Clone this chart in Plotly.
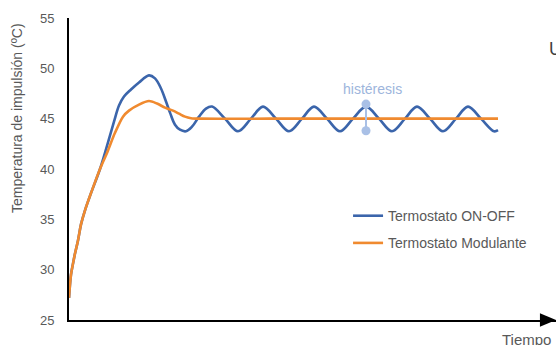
import plotly.graph_objects as go

# Time (arbitrary units) and temperature readings (ºC)
t_onoff = [0, 2, 4, 6, 9, 12, 16, 22, 31, 38, 45, 50, 55, 62, 70, 80, 86, 92, 97, 101, 106, 111, 117,
           123, 130, 137, 143, 156, 169, 182, 194, 207, 220, 233, 245, 258, 271, 284, 297,
           310, 323, 336, 348, 361, 374, 387, 399, 412, 425, 429]
v_onoff = [27.2, 29.5, 30.6, 31.6, 32.9, 34.5, 35.9, 37.6, 40.0, 42.3, 44.7, 46.3, 47.2, 47.9, 48.6, 49.3,
           49.0, 48.0, 46.7, 45.6, 44.4, 43.9, 43.75,
           44.2, 45.2, 46.0, 46.2, 45.0, 43.75, 45.0, 46.2, 45.0, 43.75, 45.0, 46.2, 45.0, 43.75,
           45.0, 46.2, 45.0, 43.75, 45.0, 46.2, 45.0, 43.75, 45.0, 46.2, 45.0, 43.75, 43.85]

t_mod = [0, 2, 4, 6, 9, 12, 16, 22, 31, 38, 46, 54, 60, 70, 80, 88, 96, 104, 110, 116, 122, 130,
         200, 300, 429]
v_mod = [27.2, 29.5, 30.6, 31.6, 32.9, 34.5, 35.9, 37.6, 40.0, 41.6, 43.6, 45.2, 45.8, 46.4, 46.75,
         46.5, 46.1, 45.8, 45.5, 45.2, 45.05, 45.0, 45.0, 45.0, 45.0]

hyst_t = [297, 297]
hyst_v = [46.45, 43.8]

y_ticks = [25, 30, 35, 40, 45, 50, 55]

BLUE = "#3b65ab"
ORANGE = "#f08a2f"
HYST = "#a9c0e6"
GREY = "#595959"
FONT = "Liberation Sans, Arial, sans-serif"

fig = go.Figure()
fig.add_trace(go.Scatter(x=t_onoff, y=v_onoff, mode="lines", name="Termostato ON-OFF",
                         line=dict(color=BLUE, width=2.6, shape="spline", smoothing=1.0),
                         legendgroup="a"))
fig.add_trace(go.Scatter(x=t_mod, y=v_mod, mode="lines", name="Termostato Modulante",
                         line=dict(color=ORANGE, width=2.6, shape="spline", smoothing=0.8),
                         legendgroup="b"))
fig.add_trace(go.Scatter(x=hyst_t, y=hyst_v, mode="lines+markers", showlegend=False,
                         line=dict(color=HYST, width=2), marker=dict(color=HYST, size=9)))

fig.add_annotation(x=303.5, y=47.95, text="histéresis", showarrow=False,
                   font=dict(family=FONT, size=14, color="#9db5dc"))

# y axis title (annotation, as in the reference it sits above centre)
fig.add_annotation(xref="paper", yref="paper", x=-0.1068, y=0.669, text="Temperatura de impulsión (ºC)",
                   textangle=-90, showarrow=False, xanchor="center", yanchor="middle",
                   font=dict(family=FONT, size=14, color=GREY))
# x axis label
fig.add_annotation(xref="paper", yref="paper", x=0.993, y=-0.030, text="Tiempo", showarrow=False,
                   xanchor="right", yanchor="top", font=dict(family=FONT, size=15, color=GREY))
# partial letter at the top right
fig.add_annotation(xref="paper", yref="paper", x=0.982, y=0.897, text="U", showarrow=False,
                   xanchor="left", yanchor="middle", font=dict(family=FONT, size=18, color="#404040"))

# arrow head on the time axis
fig.add_shape(type="path", xref="paper", yref="paper",
              path="M 0.967 0.022 L 1.0 0 L 0.967 -0.022 Z", fillcolor="black", line=dict(width=0))

fig.update_layout(
    width=556, height=345,
    margin=dict(l=69, r=0, t=18, b=25),
    plot_bgcolor="white", paper_bgcolor="white",
    font=dict(family=FONT, color=GREY),
    showlegend=True,
    legend=dict(x=0.573, y=0.397, xanchor="left", yanchor="top", bgcolor="rgba(0,0,0,0)",
                font=dict(family=FONT, size=14, color=GREY), tracegroupgap=6),
    xaxis=dict(range=[0, 487], showgrid=False, zeroline=False, showticklabels=False, ticks="",
               showline=True, linecolor="black", linewidth=2),
    yaxis=dict(range=[25, 55], tickvals=y_ticks, showgrid=False, zeroline=False, ticks="",
               showline=True, linecolor="black", linewidth=2, ticklabelstandoff=10,
               tickfont=dict(family=FONT, size=13, color=GREY)),
)

fig.write_html("out.html", config={"displayModeBar": False},
               post_script="document.body.style.margin='0px';document.body.style.overflow='hidden';")
